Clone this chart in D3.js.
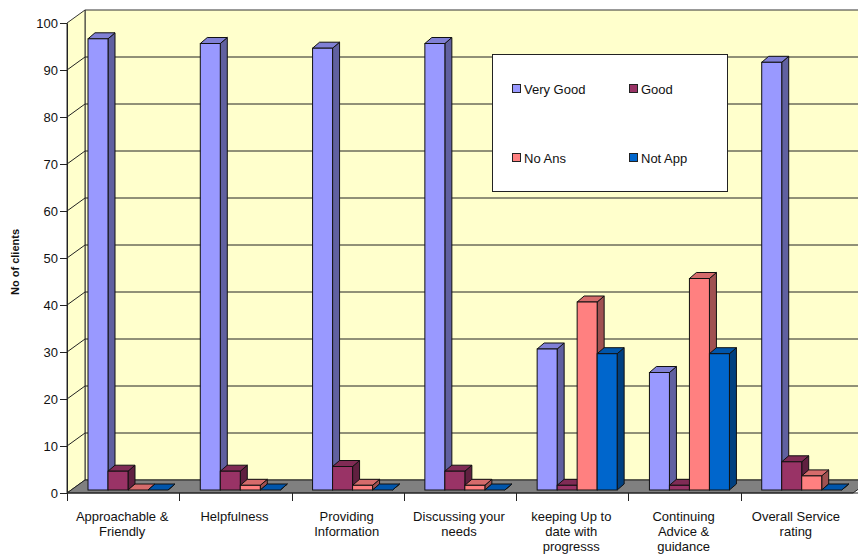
<!DOCTYPE html>
<html>
<head>
<meta charset="utf-8">
<script src="https://cdn.jsdelivr.net/npm/d3@7"></script>
<style>
  body { margin: 0; background: #fff; }
  svg { display: block; font-family: "Liberation Sans", Arial, sans-serif; }
</style>
</head>
<body>
<div id="chart"></div>
<script>
// data
const categories = [
  "Approachable & Friendly", "Helpfulness", "Providing Information",
  "Discussing your needs", "keeping Up to date with progresss",
  "Continuing Advice & guidance", "Overall Service rating"
];
const categoryLines = [
  ["Approachable &", "Friendly"], ["Helpfulness"], ["Providing", "Information"],
  ["Discussing your", "needs"], ["keeping Up to", "date with", "progresss"],
  ["Continuing", "Advice &", "guidance"], ["Overall Service", "rating"]
];
const series = ["Very Good", "Good", "No Ans", "Not App"];
const veryGood = [96, 95, 94, 95, 30, 25, 91];
const good     = [4, 4, 5, 4, 1, 1, 6];
const noAns    = [0, 1, 1, 1, 40, 45, 3];
const notApp   = [0, 0, 0, 0, 29, 29, 0];
const yTicks = [0, 10, 20, 30, 40, 50, 60, 70, 80, 90, 100];

const colors = ["#9999ff", "#993366", "#ff8080", "#0066cc"];
const values = [veryGood, good, noAns, notApp];

const width = 858, height = 557;
const left = 67, right = 853, base = 493;
const wallDx = 18, wallDy = -13;   // depth of the walls
const barDx = 7, barDy = -6;       // depth of each bar

const svg = d3.select("#chart").append("svg")
    .attr("width", width)
    .attr("height", height);

const yFront = d3.scaleLinear().domain([0, 100]).range([base, 23]);
const yBack = d3.scaleLinear().domain([0, 100]).range([base + wallDy, 23 + wallDy]);
const yBar = d3.scaleLinear().domain([0, 100]).range([490, 20]);

const x = d3.scaleBand().domain(categories).range([left, right]);
const xs = d3.scaleBand().domain(series).range([21, 101]);

const pts = a => a.map(p => p.join(",")).join(" ");

// back wall
svg.append("polygon")
    .attr("points", pts([[left + wallDx, yBack(100)], [width + 20, yBack(100)], [width + 20, yBack(0)], [left + wallDx, yBack(0)]]))
    .attr("fill", "#ffffcc").attr("stroke", "#333").attr("stroke-width", 1);
// side wall
svg.append("polygon")
    .attr("points", pts([[left, yFront(100)], [left + wallDx, yBack(100)], [left + wallDx, yBack(0)], [left, yFront(0)]]))
    .attr("fill", "#ffffcc").attr("stroke", "#333").attr("stroke-width", 1);

// gridlines
const grid = svg.append("g").attr("stroke", "#222").attr("stroke-width", 1).attr("fill", "none");
yTicks.filter(t => t > 0 && t < 100).forEach(t => {
  grid.append("path")
      .attr("d", `M${left},${yFront(t)}L${left + wallDx},${yBack(t)}H${width + 20}`);
});

// floor
svg.append("polygon")
    .attr("points", pts([[left, base], [left + wallDx, base + wallDy], [right + wallDx, base + wallDy], [right, base]]))
    .attr("fill", "#808080").attr("stroke", "#222").attr("stroke-width", 1);

// y axis
const yAxis = svg.append("g").attr("transform", `translate(${left},0)`)
    .call(d3.axisLeft(yFront).tickValues(yTicks).tickSize(7).tickSizeOuter(0));
yAxis.select(".domain").attr("stroke", "#222");
yAxis.selectAll(".tick line").attr("stroke", "#222");
yAxis.selectAll(".tick text").attr("font-size", 13).attr("fill", "#111")
    .attr("font-family", "Liberation Sans, Arial, sans-serif").attr("x", -9);

// x axis line with category ticks
const xAxisG = svg.append("g");
xAxisG.append("line").attr("x1", left).attr("x2", width).attr("y1", base).attr("y2", base)
    .attr("stroke", "#222");
categories.forEach(c => {
  xAxisG.append("line").attr("x1", Math.round(x(c)) + 0.5).attr("x2", Math.round(x(c)) + 0.5)
      .attr("y1", base).attr("y2", base + 8).attr("stroke", "#222");
});

// bars
const darker = (c, k) => d3.rgb(c).darker(k).formatHex();
categories.forEach((c, i) => {
  const g = svg.append("g");
  series.forEach((s, j) => {
    const v = values[j][i];
    const x0 = x(c) + xs(s), x1 = x0 + xs.bandwidth();
    const yb = yBar(0), yt = yBar(v);
    const col = colors[j];
    // side
    g.append("polygon")
        .attr("points", pts([[x1, yb], [x1 + barDx, yb + barDy], [x1 + barDx, yt + barDy], [x1, yt]]))
        .attr("fill", darker(col, 1.3)).attr("stroke", "#111").attr("stroke-width", 1);
    // top
    g.append("polygon")
        .attr("points", pts([[x0, yt], [x0 + barDx, yt + barDy], [x1 + barDx, yt + barDy], [x1, yt]]))
        .attr("fill", darker(col, 0.5)).attr("stroke", "#111").attr("stroke-width", 1);
    // front
    if (v > 0) {
      g.append("rect")
          .attr("x", x0).attr("y", yt).attr("width", x1 - x0).attr("height", yb - yt)
          .attr("fill", col).attr("stroke", "#111").attr("stroke-width", 1);
    }
  });
});

// category labels
categories.forEach((c, i) => {
  const t = svg.append("text")
      .attr("x", x(c) + x.bandwidth() / 2 - 1)
      .attr("y", 521)
      .attr("text-anchor", "middle")
      .attr("font-size", 13).attr("fill", "#111");
  categoryLines[i].forEach((l, k) => {
    t.append("tspan").attr("x", x(c) + x.bandwidth() / 2 - 1).attr("dy", k === 0 ? 0 : 15).text(l);
  });
});

// y title
svg.append("text")
    .attr("transform", "translate(19,262) rotate(-90)")
    .attr("text-anchor", "middle")
    .attr("font-size", 11).attr("font-weight", "bold").attr("fill", "#111")
    .text("No of clients");

// legend
const legend = svg.append("g").attr("transform", "translate(492,54)");
legend.append("rect").attr("x", 0.5).attr("y", 0.5).attr("width", 235).attr("height", 137)
    .attr("fill", "#fff").attr("stroke", "#222");
const legPos = [[20, 35], [137, 35], [20, 104], [137, 104]];
series.forEach((s, j) => {
  const [lx, ly] = legPos[j];
  legend.append("rect").attr("x", lx + 0.5).attr("y", ly - 4.5).attr("width", 8).attr("height", 8)
      .attr("fill", colors[j]).attr("stroke", "#222");
  legend.append("text").attr("x", lx + 12).attr("y", ly + 5)
      .attr("font-size", 13).attr("fill", "#111").text(s);
});
</script>
</body>
</html>
